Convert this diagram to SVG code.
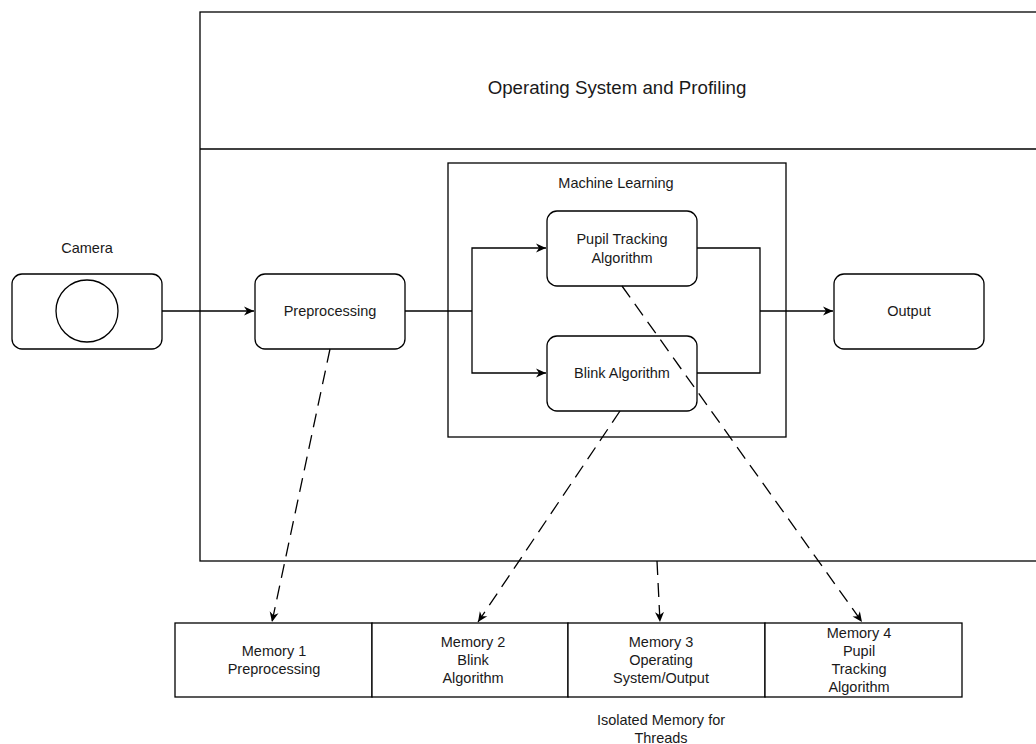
<svg xmlns="http://www.w3.org/2000/svg" width="1036" height="744" viewBox="0 0 1036 744">
<defs>
<marker id="arr" markerWidth="12" markerHeight="12" refX="10" refY="6" orient="auto" markerUnits="userSpaceOnUse">
<path d="M0,1.5 L10,6 L0,10.5 L3,6 Z" fill="#000"/>
</marker>
<style>
.box{fill:#fff;stroke:#000;stroke-width:1.3}
.rbox{fill:#fff;stroke:#000;stroke-width:1.3}
.t{font-family:"Liberation Sans",Arial,sans-serif;font-size:14.5px;fill:#1a1a1a;text-anchor:middle}
.big{font-size:18.7px}
.c{fill:none;stroke:#000;stroke-width:1.3}
.d{fill:none;stroke:#000;stroke-width:1.3;stroke-dasharray:14 8}
</style>
</defs>
<rect width="1036" height="744" fill="#fff"/>
<g id="os">
<rect class="box" x="200" y="12" width="850" height="549"/>
<line class="c" x1="200" y1="149" x2="1040" y2="149"/>
<text class="t big" x="617" y="94">Operating System and Profiling</text>
</g>
<g id="ml">
<rect class="box" x="448" y="163" width="338" height="274"/>
<text class="t" x="616" y="188">Machine Learning</text>
</g>
<g id="camera">
<text class="t" x="87" y="253">Camera</text>
<rect class="rbox" x="12" y="274" width="150" height="75" rx="10"/>
<circle cx="87" cy="311" r="31" fill="#fff" stroke="#000" stroke-width="1.3"/>
</g>
<g id="preprocessing">
<rect class="rbox" x="255" y="274" width="150" height="75" rx="10"/>
<text class="t" x="330" y="316">Preprocessing</text>
</g>
<g id="pupil">
<rect class="rbox" x="547" y="211" width="150" height="75" rx="10"/>
<text class="t" x="622" y="244">Pupil Tracking</text>
<text class="t" x="622" y="263">Algorithm</text>
</g>
<g id="blink">
<rect class="rbox" x="547" y="336" width="150" height="75" rx="10"/>
<text class="t" x="622" y="378">Blink Algorithm</text>
</g>
<g id="output">
<rect class="rbox" x="834" y="274" width="150" height="75" rx="10"/>
<text class="t" x="909" y="316">Output</text>
</g>
<g id="memory">
<rect class="box" x="175" y="623" width="197" height="74"/>
<rect class="box" x="372" y="623" width="196" height="74"/>
<rect class="box" x="568" y="623" width="197" height="74"/>
<rect class="box" x="765" y="623" width="197" height="74"/>
<text class="t" x="274" y="656">Memory 1</text>
<text class="t" x="274" y="674">Preprocessing</text>
<text class="t" x="473" y="647">Memory 2</text>
<text class="t" x="473" y="665">Blink</text>
<text class="t" x="473" y="683">Algorithm</text>
<text class="t" x="661" y="647">Memory 3</text>
<text class="t" x="661" y="665">Operating</text>
<text class="t" x="661" y="683">System/Output</text>
<text class="t" x="859" y="638">Memory 4</text>
<text class="t" x="859" y="656">Pupil</text>
<text class="t" x="859" y="674">Tracking</text>
<text class="t" x="859" y="692">Algorithm</text>
<text class="t" x="661" y="725">Isolated Memory for</text>
<text class="t" x="661" y="743">Threads</text>
</g>
<g id="connectors">
<line class="c" x1="162" y1="311" x2="254" y2="311" marker-end="url(#arr)"/>
<polyline class="c" points="405,311 472,311"/>
<polyline class="c" points="472,311 472,248 546,248" marker-end="url(#arr)"/>
<polyline class="c" points="472,311 472,373 546,373" marker-end="url(#arr)"/>
<polyline class="c" points="697,248 760,248 760,373 697,373"/>
<line class="c" x1="760" y1="311" x2="833" y2="311" marker-end="url(#arr)"/>
<line class="d" x1="330" y1="349" x2="272" y2="622" marker-end="url(#arr)"/>
<line class="d" x1="620" y1="411" x2="478" y2="622" marker-end="url(#arr)"/>
<line class="d" x1="657" y1="561" x2="660" y2="622" marker-end="url(#arr)"/>
<line class="d" x1="622" y1="286" x2="862" y2="622" marker-end="url(#arr)"/>
</g>
</svg>
